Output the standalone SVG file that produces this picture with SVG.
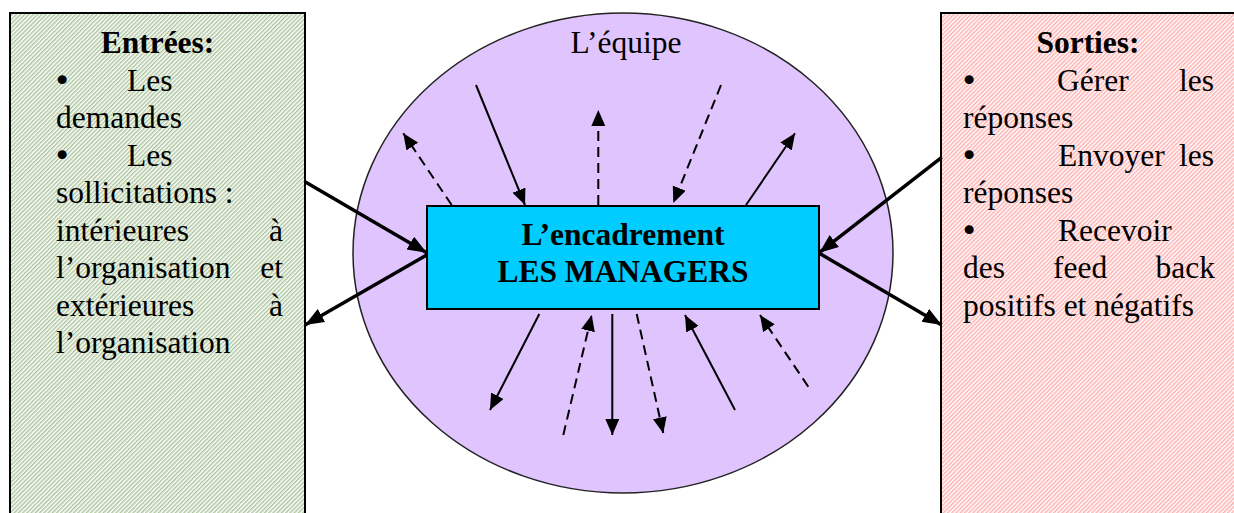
<svg xmlns="http://www.w3.org/2000/svg" width="1234" height="513" viewBox="0 0 1234 513">
<defs>
<pattern id="hatchG" patternUnits="userSpaceOnUse" width="3" height="3" patternTransform="rotate(45)">
<rect width="3" height="3" fill="#ffffff"/>
<rect width="1.5" height="3" fill="#adc69e"/>
</pattern>
<pattern id="hatchR" patternUnits="userSpaceOnUse" width="3" height="3" patternTransform="rotate(45)">
<rect width="3" height="3" fill="#ffffff"/>
<rect width="1.5" height="3" fill="#ffb0b0"/>
</pattern>
<marker id="ah" markerUnits="userSpaceOnUse" markerWidth="17" markerHeight="15" refX="16" refY="7" orient="auto">
<path d="M0,0 L16,7 L0,14 Z" fill="#000"/>
</marker>
<marker id="ahB" markerUnits="userSpaceOnUse" markerWidth="20" markerHeight="16" refX="19" refY="7.5" orient="auto">
<path d="M0,0 L19,7.5 L0,15 Z" fill="#000"/>
</marker>
</defs>
<style>
text { font-family: "Liberation Serif", "Times New Roman", serif; font-size: 31.5px; fill: #000; }
.b { font-weight: bold; }
.m { text-anchor: middle; }
.e { text-anchor: end; }
.bu { font-family: "DejaVu Sans", sans-serif; font-size: 31px; }
.box { stroke: #000; stroke-width: 2; }
.sm { stroke: #000; stroke-width: 2; fill: none; marker-end: url(#ah); }
.d { stroke-dasharray: 10 6; }
.big { stroke: #000; stroke-width: 3.5; fill: none; marker-end: url(#ahB); }
</style>

<g id="entrees">
<rect class="box" x="10" y="13" width="295" height="510" fill="url(#hatchG)"/>
<text class="b m" x="157.5" y="53">Entrées:</text>
<text class="bu" x="53" y="90.5">•</text><text x="127" y="90.5">Les</text>
<text x="56" y="128">demandes</text>
<text class="bu" x="53" y="165.5">•</text><text x="127" y="165.5">Les</text>
<text x="56" y="203">sollicitations :</text>
<text x="56" y="240.5">intérieures</text><text class="e" x="283" y="240.5">à</text>
<text x="56" y="278">l’organisation</text><text class="e" x="283" y="278">et</text>
<text x="56" y="315.5">extérieures</text><text class="e" x="283" y="315.5">à</text>
<text x="56" y="353">l’organisation</text>
</g>

<g id="sorties">
<rect class="box" x="941" y="13" width="300" height="510" fill="url(#hatchR)"/>
<text class="b m" x="1088" y="53">Sorties:</text>
<text class="bu" x="960" y="90.5">•</text><text x="1057" y="90.5">Gérer</text><text class="e" x="1214" y="90.5">les</text>
<text x="963" y="128">réponses</text>
<text class="bu" x="960" y="165.5">•</text><text x="1058" y="165.5">Envoyer</text><text class="e" x="1214" y="165.5">les</text>
<text x="963" y="203">réponses</text>
<text class="bu" x="960" y="240.5">•</text><text x="1058" y="240.5">Recevoir</text>
<text x="963" y="278">des</text><text x="1053" y="278">feed</text><text class="e" x="1215" y="278">back</text>
<text x="963" y="315.5">positifs et négatifs</text>
</g>

<g id="equipe">
<ellipse cx="623" cy="253" rx="270" ry="240" fill="#e0c4fe" stroke="#222" stroke-width="1.5"/>
<text class="m" x="626" y="53">L’équipe</text>
</g>

<g id="connectors">
<line class="sm d" x1="451.7" y1="205" x2="403.3" y2="133.3"/>
<line class="sm" x1="476" y1="85" x2="525" y2="205"/>
<line class="sm d" x1="598.3" y1="205" x2="598.3" y2="110"/>
<line class="sm d" x1="721" y1="85" x2="673.3" y2="203"/>
<line class="sm" x1="746" y1="205" x2="795" y2="133.3"/>
<line class="sm" x1="539.3" y1="314" x2="490" y2="410"/>
<line class="sm d" x1="563.3" y1="435" x2="591.7" y2="315"/>
<line class="sm" x1="612.3" y1="314" x2="612.3" y2="435"/>
<line class="sm d" x1="636.7" y1="314" x2="663.3" y2="433.3"/>
<line class="sm" x1="735" y1="410" x2="685" y2="315"/>
<line class="sm d" x1="808.3" y1="386.7" x2="760" y2="315"/>
<line class="big" x1="305" y1="181.7" x2="426.7" y2="252.7"/>
<line class="big" x1="426.7" y1="255" x2="305" y2="325"/>
<line class="big" x1="941.7" y1="157.3" x2="819.3" y2="252.7"/>
<line class="big" x1="819.3" y1="253.3" x2="941.7" y2="325"/>
</g>

<g id="encadrement">
<rect class="box" x="427" y="206" width="392" height="103" fill="#00ccff"/>
<text class="b m" x="623" y="245">L’encadrement</text>
<text class="b m" x="623" y="282">LES MANAGERS</text>
</g>
</svg>
